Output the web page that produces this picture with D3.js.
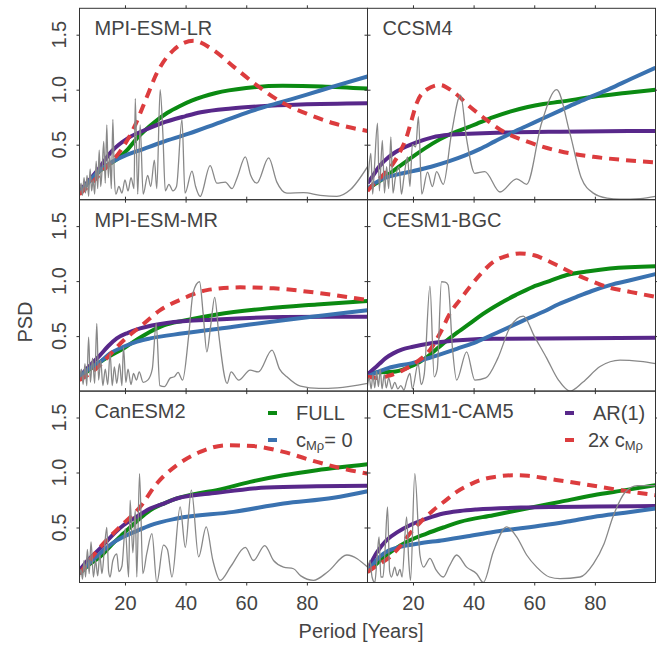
<!DOCTYPE html>
<html>
<head>
<meta charset="utf-8">
<script src="https://cdn.jsdelivr.net/npm/d3@7"></script>
<style>
  body { margin: 0; background: #fff; }
  text { font-family: "Liberation Sans", Arial, Helvetica, sans-serif; fill: #444; }
</style>
</head>
<body>
<div id="contenedorGrafico"></div>
<script>
// MODELOS (UN PANEL CADA UNO, DE IZQUIERDA A DERECHA Y DE ARRIBA A ABAJO)
const modelos = ["MPI-ESM-LR", "CCSM4", "MPI-ESM-MR", "CESM1-BGC", "CanESM2", "CESM1-CAM5"];
const ticksPeriodo = [20, 40, 60, 80];
const ticksPSD = [0.5, 1.0, 1.5];
const etiquetasPSD = ["0.5", "1.0", "1.5"];

// CURVA VERDE: FULL  [periodo, PSD]
const full = [
  [[5,0.06],[10,0.22],[14,0.31],[17.5,0.37],[21,0.46],[24,0.56],[27,0.64],[30,0.71],[34,0.79],[38,0.85],[42,0.9],[50,0.97],[60,1.015],[72,1.035],[85,1.03],[100,1.01]],
  [[5,0.1],[8,0.15],[11,0.21],[15.4,0.3],[20.9,0.41],[26.4,0.51],[31.9,0.59],[37.4,0.65],[41,0.69],[46.5,0.75],[52,0.8],[57.5,0.84],[63,0.87],[68.5,0.89],[79.5,0.936],[90,0.97],[100,1.0]],
  [[5,0.11],[8,0.19],[11.8,0.266],[15,0.32],[19.5,0.388],[24,0.47],[28.3,0.54],[33,0.6],[39.3,0.64],[50.3,0.697],[66.8,0.752],[83.3,0.788],[100,0.82]],
  [[5,0.16],[8,0.17],[13.5,0.175],[18,0.21],[22.3,0.266],[26,0.34],[30,0.434],[34,0.52],[38.8,0.615],[43,0.7],[48.7,0.797],[54,0.875],[59.6,0.948],[65,1.0],[70.7,1.055],[78,1.09],[85,1.115],[100,1.136]],
  [[5,0.08],[8,0.16],[11.8,0.233],[15.5,0.34],[19.5,0.445],[24,0.56],[28.3,0.657],[33,0.72],[37.1,0.764],[44,0.81],[50.3,0.84],[61.3,0.915],[72.3,0.975],[83.3,1.021],[100,1.075]],
  [[5,0.096],[8,0.17],[10,0.22],[13.5,0.294],[18,0.37],[24.5,0.445],[30,0.5],[35.5,0.551],[46.5,0.612],[57.5,0.672],[68.5,0.733],[79.5,0.794],[90,0.84],[100,0.885]]
];

// CURVA AZUL: cMρ = 0
const cCero = [
  [[5,0.06],[8,0.16],[11,0.25],[15,0.33],[20,0.4],[26,0.46],[32,0.52],[41,0.6],[50,0.69],[60,0.79],[70,0.875],[80,0.955],[90,1.04],[100,1.12]],
  [[5,0.1],[8,0.16],[11,0.2],[15,0.23],[20,0.26],[26,0.3],[32,0.35],[37,0.4],[42,0.46],[47,0.53],[52,0.6],[57.5,0.67],[63,0.74],[68.5,0.81],[74,0.88],[80,0.95],[85,1.01],[92,1.1],[100,1.2]],
  [[5,0.13],[8,0.2],[11.8,0.266],[15,0.34],[19.5,0.403],[24,0.45],[28.3,0.479],[39.3,0.525],[55.8,0.585],[72.3,0.645],[86,0.69],[100,0.736]],
  [[5,0.13],[8,0.17],[11.3,0.205],[15,0.23],[19,0.25],[24,0.29],[30,0.343],[35,0.39],[41,0.448],[46,0.51],[52,0.585],[57,0.65],[63,0.721],[68,0.79],[74,0.857],[79,0.91],[85,0.964],[92,1.01],[100,1.064]],
  [[5,0.08],[8,0.17],[11.8,0.264],[15.5,0.35],[19.5,0.415],[24,0.47],[28.3,0.52],[37.1,0.582],[55.8,0.642],[72.3,0.718],[88.8,0.77],[100,0.83]],
  [[5,0.096],[9,0.233],[12,0.29],[15.7,0.324],[22,0.355],[30,0.385],[38,0.42],[46.5,0.46],[55,0.49],[63,0.52],[71,0.555],[79.5,0.596],[90,0.635],[100,0.672]]
];

// CURVA MORADA: AR(1)
const ar1 = [
  [[5,0.08],[8,0.17],[11,0.27],[15.6,0.44],[21,0.56],[26.6,0.634],[32,0.695],[40,0.76],[45,0.795],[55,0.83],[65,0.85],[78,0.865],[100,0.876]],
  [[5,0.15],[6.6,0.21],[8.8,0.3],[12.1,0.39],[15.4,0.45],[20.9,0.518],[26.4,0.567],[31.9,0.59],[40.7,0.602],[50,0.61],[68.5,0.618],[100,0.625]],
  [[5,0.13],[8,0.22],[11.8,0.327],[14.5,0.41],[17.3,0.479],[21,0.53],[25,0.57],[33.8,0.62],[50.3,0.652],[72.3,0.673],[100,0.676]],
  [[5,0.15],[7,0.2],[9,0.25],[11,0.3],[13.5,0.343],[16.5,0.38],[20,0.403],[25,0.43],[30,0.448],[46.5,0.475],[100,0.485]],
  [[5,0.11],[8,0.21],[11.8,0.31],[15.5,0.42],[19.5,0.52],[24,0.6],[28.3,0.672],[33,0.72],[37.1,0.764],[50.3,0.815],[66.8,0.864],[83.3,0.875],[100,0.88]],
  [[5,0.11],[8,0.27],[11.3,0.385],[15,0.46],[19,0.52],[24.5,0.58],[30,0.627],[35.5,0.65],[41,0.664],[57.5,0.682],[100,0.696]]
];

// CURVA ROJA PUNTEADA: 2x cMρ
const dobleC = [
  [[5,0.05],[10,0.18],[14,0.3],[18.4,0.44],[23.4,0.68],[27,0.92],[30.5,1.15],[36,1.36],[42.6,1.445],[49.2,1.36],[55.8,1.21],[63.5,1.04],[72.3,0.876],[81.1,0.77],[88.8,0.695],[100,0.625]],
  [[5,0.08],[6.3,0.12],[10,0.22],[13.5,0.33],[16,0.45],[17.9,0.57],[19.5,0.72],[21.2,0.876],[24.5,1.0],[28.9,1.043],[33.3,0.98],[38.8,0.845],[44.3,0.725],[49.8,0.62],[57.5,0.53],[68.5,0.44],[79.5,0.39],[90,0.36],[100,0.34]],
  [[5,0.1],[8,0.15],[11.8,0.236],[15,0.33],[19.5,0.46],[25,0.585],[31.6,0.736],[39.3,0.843],[47,0.918],[58,0.943],[69,0.934],[83.3,0.894],[100,0.827]],
  [[5,0.13],[8,0.12],[12,0.14],[16.7,0.19],[21,0.26],[25.6,0.373],[29,0.53],[32.2,0.706],[35.5,0.83],[38.8,0.948],[42.5,1.07],[46.5,1.175],[51,1.23],[55.3,1.252],[60,1.235],[64.1,1.19],[68.5,1.13],[72.9,1.07],[78,1.01],[83.9,0.948],[92,0.9],[100,0.857]],
  [[5,0.08],[8,0.19],[11.8,0.32],[15.5,0.43],[19.5,0.536],[25,0.687],[30.5,0.9],[37.1,1.066],[44.8,1.187],[53.6,1.248],[62.4,1.24],[72.3,1.187],[83.3,1.096],[93.2,1.027],[100,0.99]],
  [[5,0.096],[8.5,0.16],[12.4,0.233],[15.5,0.32],[19,0.445],[22.5,0.55],[26.7,0.657],[30.5,0.74],[34.4,0.824],[38,0.88],[42.1,0.93],[47,0.96],[53,0.975],[58,0.97],[64.1,0.945],[75,0.9],[88.3,0.84],[100,0.794]]
];

// ESPECTRO GRIS DE CADA MODELO
const espectro = [
  [[5,0.05],[5.5,0.15],[6,0.04],[6.5,0.2],[7,0.06],[7.5,0.22],[8,0.03],[8.5,0.28],[9,0.08],[9.5,0.18],[10,0.05],[10.5,0.35],[11,0.1],[11.5,0.45],[12,0.12],[12.5,0.3],[13,0.53],[13.5,0.15],[14,0.68],[14.5,0.2],[15,0.4],[15.5,0.1],[16,0.73],[16.5,0.2],[17,0.05],[18,0.12],[19,0.06],[20,0.18],[21,0.08],[22,0.2],[23,0.1],[23.4,0.92],[24.2,0.05],[25,0.68],[26,0.05],[27.5,0.22],[28.5,0.12],[29.7,0.36],[30.5,0.1],[31.6,1.0],[32.5,0.6],[33.3,0.08],[34.5,0.14],[35.8,0.08],[37,0.12],[38.8,0.73],[39.8,0.06],[42.1,0.26],[43.3,0.12],[44.8,0.03],[48.1,0.31],[50.3,0.15],[53.1,0.16],[55.3,0.1],[57,0.2],[59.7,0.39],[61.5,0.22],[63.5,0.15],[67.4,0.38],[70.1,0.16],[73.4,0.06],[78.9,0.065],[84.4,0.04],[89.9,0.03],[94.3,0.09],[100,0.3]],
  [[5,0.1],[5.5,0.3],[6.1,0.42],[6.7,0.05],[7.3,0.3],[8.3,0.695],[8.9,0.08],[9.9,0.54],[10.6,0.06],[11.3,0.3],[12,0.1],[12.7,0.57],[13.4,0.06],[14.2,0.2],[15.4,0.3],[16.2,0.05],[17,0.2],[18.2,0.39],[19,0.12],[19.8,0.5],[20.9,0.48],[21.8,0.755],[22.9,0.05],[24.8,0.25],[26.4,0.12],[27.8,0.255],[30,0.14],[32.7,0.6],[35.7,0.95],[37.7,0.55],[40.4,0.24],[43.7,0.255],[48.7,0.07],[54.2,0.19],[57.5,0.14],[62.4,0.695],[67.4,1.0],[71.8,0.6],[75.5,0.2],[79.5,0.06],[84,0.015],[88.3,0.005],[95,0.01],[100,0.03]],
  [[5,0.1],[5.6,0.2],[6.2,0.06],[6.8,0.25],[7.4,0.05],[8,0.49],[8.6,0.08],[9.3,0.3],[10,0.07],[10.7,0.615],[11.3,0.1],[12,0.28],[12.7,0.05],[13.5,0.2],[14.3,0.06],[15.1,0.34],[15.8,0.05],[16.5,0.22],[17.3,0.07],[18.2,0.25],[19,0.05],[19.5,0.4],[20.3,0.08],[21,0.2],[22,0.06],[22.8,0.16],[23.8,0.1],[24.7,0.175],[26,0.08],[27.5,0.1],[29,0.2],[30.3,0.615],[31.5,0.05],[33,0.04],[35,0.12],[36.3,0.13],[37.5,0.17],[39,0.1],[41,0.5],[42.5,0.9],[44.6,0.994],[45.8,0.7],[47,0.357],[48.3,0.6],[49.6,0.852],[51,0.5],[53.7,0.07],[55,0.175],[57.5,0.1],[61.3,0.19],[64,0.175],[68.5,0.373],[71,0.2],[73.4,0.13],[77.9,0.045],[84,0.025],[90,0.03],[100,0.07]],
  [[5,0.05],[5.6,0.12],[6.2,0.02],[6.8,0.15],[7.4,0.03],[8,0.18],[8.6,0.04],[9.2,0.2],[9.8,0.02],[10.5,0.15],[11.2,0.03],[12,0.12],[13,0.02],[14,0.08],[15,0.02],[16,0.05],[17,0.01],[18,0.1],[19,0.16],[19.8,0.02],[21.7,0.25],[22.7,0.06],[23.7,0.15],[25.6,0.955],[27,0.13],[28,0.2],[29.4,0.994],[30.6,0.99],[31.6,0.964],[33,0.4],[34.4,0.1],[37.7,0.357],[40.4,0.1],[44,0.12],[48,0.3],[52,0.58],[56.4,0.682],[60,0.5],[64.1,0.3],[68,0.1],[71.8,0.0],[76,0.08],[81.7,0.223],[88.3,0.282],[95,0.27],[100,0.25]],
  [[5,0.05],[5.5,0.12],[6,0.03],[6.5,0.2],[7,0.05],[7.6,0.3],[8.2,0.08],[8.8,0.37],[9.6,0.05],[10.3,0.2],[11,0.06],[11.7,0.25],[12.4,0.08],[13.2,0.3],[14,0.5],[14.6,0.1],[15.1,0.05],[16,0.2],[17.3,0.26],[18,0.1],[19,0.15],[20.1,0.49],[21.2,0.05],[21.7,0.748],[22.6,0.27],[23.4,0.657],[23.9,0.05],[24.8,0.99],[25.9,0.08],[27.2,0.264],[28.9,0.445],[30.5,0.0],[32.7,0.34],[34,0.3],[35.5,0.05],[38.2,0.687],[39.9,0.32],[41.9,0.84],[44.3,0.233],[46.8,0.505],[49,0.2],[51.4,0.02],[55,0.15],[59.7,0.32],[62.4,0.2],[66.1,0.335],[69,0.2],[72.3,0.14],[75.6,0.125],[78,0.06],[82.2,0.02],[87,0.1],[93.2,0.25],[100,0.14]],
  [[5,0.1],[5.8,0.2],[6.5,0.05],[7.4,0.0],[8.1,0.2],[8.8,0.415],[9.4,0.05],[10.1,0.05],[10.8,0.3],[11.6,0.687],[12.3,0.1],[12.9,0.05],[14,0.14],[14.8,0.06],[15.7,0.12],[16.4,0.05],[17.9,0.596],[18.6,0.2],[19.2,0.02],[20.6,0.99],[22.3,0.25],[23.5,0.14],[25.6,0.22],[27.5,0.12],[30,0.05],[32,0.15],[34.4,0.25],[37.7,0.14],[41,0.08],[43.2,0.0],[46.5,0.28],[50.9,0.505],[54.2,0.415],[57.5,0.25],[60.8,0.14],[65,0.05],[68.5,0.035],[75.1,0.05],[79.5,0.17],[83,0.35],[86,0.6],[90,0.82],[94,0.88],[100,0.88]]
];

// GEOMETRIA DE LA FIGURA
const ancho = 657, alto = 646;
const izquierda = 79.5, arriba = 8.3;
const panelAncho = 288, panelAlto = 191.4;
const fuente = "'Liberation Sans', Arial, Helvetica, sans-serif";

const verde = "#0b8a12", azul = "#3a72b0", morado = "#58288a", rojo = "#dc3c3e", gris = "#888888", borde = "#333333";

const $svg = d3.select("#contenedorGrafico")
  .append("svg")
  .attr("width", ancho)
  .attr("height", alto);

const series = [
  { datos: full, color: verde, guiones: null },
  { datos: ar1, color: morado, guiones: null },
  { datos: cCero, color: azul, guiones: null },
  { datos: dobleC, color: rojo, guiones: "10,7" }
];

modelos.forEach((modelo, i) => {
  const col = i % 2, fila = Math.floor(i / 2);
  const x0 = izquierda + col * panelAncho, y0 = arriba + fila * panelAlto;

  const x = d3.scaleLinear().domain([5, 100]).range([x0, x0 + panelAncho]);
  const y = d3.scaleLinear().domain([0, 1.74]).range([y0 + panelAlto, y0]);

  const linea = d3.line()
    .x(d => x(d[0]))
    .y(d => y(d[1]))
    .curve(d3.curveMonotoneX);

  $svg.append("clipPath")
    .attr("id", `recorte${i}`)
    .append("rect")
    .attr("x", x0).attr("y", y0)
    .attr("width", panelAncho).attr("height", panelAlto);

  const $panel = $svg.append("g").attr("clip-path", `url(#recorte${i})`);

  // CURVAS DE LOS MODELOS
  series.forEach(s => {
    $panel.append("path")
      .attr("d", linea(s.datos[i]))
      .attr("fill", "none")
      .attr("stroke", s.color)
      .attr("stroke-width", 4)
      .attr("stroke-dasharray", s.guiones);
  });

  // ESPECTRO GRIS ENCIMA
  $panel.append("path")
    .attr("d", linea(espectro[i]))
    .attr("fill", "none")
    .attr("stroke", gris)
    .attr("stroke-width", 1.3);

  // MARCAS DE LOS EJES (HACIA AFUERA, EN LOS CUATRO LADOS)
  const limpiar = g => {
    g.select(".domain").remove();
    g.selectAll(".tick line").attr("stroke", borde);
  };
  $svg.append("g")
    .attr("transform", `translate(0,${y0 + panelAlto})`)
    .call(d3.axisBottom(x).tickValues(ticksPeriodo).tickSize(3).tickPadding(10)
      .tickFormat(fila === 2 ? d3.format("d") : ""))
    .call(limpiar)
    .call(g => g.selectAll("text").attr("font-size", 20).attr("font-family", fuente).attr("fill", "#444"));
  $svg.append("g")
    .attr("transform", `translate(0,${y0})`)
    .call(d3.axisTop(x).tickValues(ticksPeriodo).tickSize(3).tickFormat(""))
    .call(limpiar);
  $svg.append("g")
    .attr("transform", `translate(${x0},0)`)
    .call(d3.axisLeft(y).tickValues(ticksPSD).tickSize(3).tickFormat(""))
    .call(limpiar);
  $svg.append("g")
    .attr("transform", `translate(${x0 + panelAncho},0)`)
    .call(d3.axisRight(y).tickValues(ticksPSD).tickSize(3).tickFormat(""))
    .call(limpiar);

  // ETIQUETAS DEL EJE Y (GIRADAS) SOLO EN LA COLUMNA IZQUIERDA
  if (col === 0) {
    $svg.append("g")
      .selectAll("text")
      .data(ticksPSD)
      .join("text")
      .attr("transform", d => `translate(${x0 - 14}, ${y(d)}) rotate(-90)`)
      .attr("text-anchor", "middle")
      .attr("font-size", 20)
      .text((d, k) => etiquetasPSD[k]);
  }

  // BORDE DEL PANEL
  $svg.append("rect")
    .attr("x", x0).attr("y", y0)
    .attr("width", panelAncho).attr("height", panelAlto)
    .attr("fill", "none")
    .attr("stroke", borde)
    .attr("stroke-width", 1);

  // NOMBRE DEL MODELO
  $svg.append("text")
    .attr("x", x0 + 15)
    .attr("y", y0 + 27)
    .attr("font-size", 20)
    .text(modelo);
});

// LEYENDA
const leyenda = [
  { color: verde, x: 268, y: 413, partes: [["FULL", 20, 0]] },
  { color: azul, x: 268, y: 440, partes: [["c", 20, 0], ["Mρ", 13, 3], ["= 0", 20, -3]] },
  { color: morado, x: 565, y: 413, partes: [["AR(1)", 20, 0]] },
  { color: rojo, x: 565, y: 440, partes: [["2x c", 20, 0], ["Mρ", 13, 3]] }
];

leyenda.forEach(item => {
  $svg.append("line")
    .attr("x1", item.x).attr("x2", item.x + 9)
    .attr("y1", item.y).attr("y2", item.y)
    .attr("stroke", item.color)
    .attr("stroke-width", 4);
  const $texto = $svg.append("text")
    .attr("x", item.x + (item.color === rojo ? 23 : 28))
    .attr("y", item.y + 7)
    .attr("font-size", 20);
  item.partes.forEach(([t, tam, dy]) => {
    $texto.append("tspan").attr("font-size", tam).attr("dy", dy).text(t);
  });
});

// TITULOS DE LOS EJES
$svg.append("text")
  .attr("x", 361)
  .attr("y", 638)
  .attr("text-anchor", "middle")
  .attr("font-size", 20)
  .text("Period [Years]");

$svg.append("text")
  .attr("transform", "translate(32, 322) rotate(-90)")
  .attr("text-anchor", "middle")
  .attr("font-size", 20)
  .text("PSD");
</script>
</body>
</html>
